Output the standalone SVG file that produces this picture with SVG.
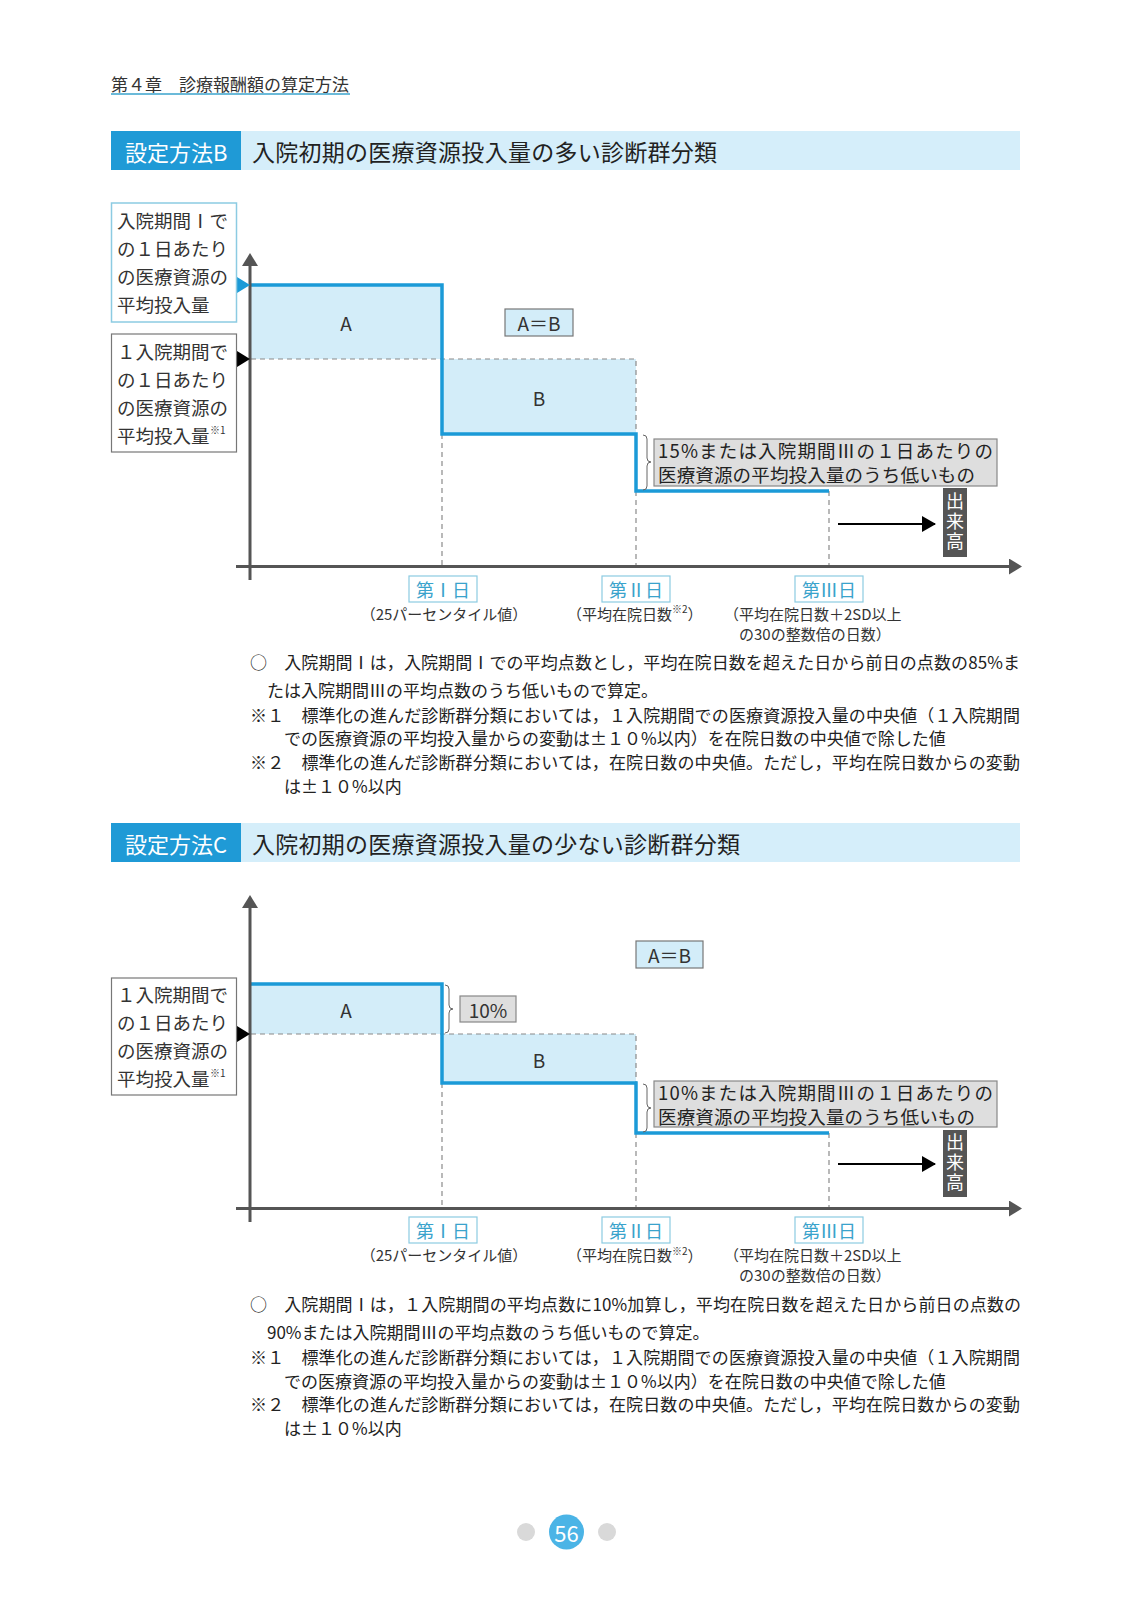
<svg xmlns="http://www.w3.org/2000/svg" width="1133" height="1600" viewBox="0 0 1133 1600">
<style>
text{font-family:"Noto Sans CJK JP","Noto Sans",sans-serif;dominant-baseline:central;fill:#222}
.hdr{font-size:17px;fill:#333}
.ttlw{font-size:22px;fill:#fff}
.ttl{font-size:23px;fill:#222}
.lbl{font-size:18.5px;fill:#333}
.sup{font-size:10px;fill:#333}
.big{font-size:19px;fill:#333;text-anchor:middle}
.gl{font-size:18.5px;fill:#222}
.day{font-size:18px;fill:#3aa3cc;text-anchor:middle}
.sub{font-size:15px;fill:#333}
.note{font-size:17px;fill:#222}
.vt{font-size:18px;fill:#fff;text-anchor:middle;writing-mode:vertical-rl;letter-spacing:2px}
.axis{stroke:#555;stroke-width:3;fill:none}
.dash{stroke:#8a8a8a;stroke-width:1.2;stroke-dasharray:5,4;fill:none}
.step{stroke:#1b9ad7;stroke-width:3.5;fill:none;stroke-linejoin:miter}
.area{fill:#d3edf9}
.box1{fill:#fff;stroke:#8ccbe2;stroke-width:1.5}
.box2{fill:#fff;stroke:#777;stroke-width:1.2}
.eq{fill:#d3edf9;stroke:#777;stroke-width:1.2}
.gbox{fill:#dedede;stroke:#888;stroke-width:1.2}
.dbox{fill:#fff;stroke:#8ccbe2;stroke-width:1.2}
.brace{stroke:#666;stroke-width:1;fill:none}
.dk{fill:#555}
</style>
<defs>
<marker id="ax" viewBox="0 0 13 16" refX="10" refY="8" markerWidth="13" markerHeight="16" orient="auto" markerUnits="userSpaceOnUse"><path d="M0,0 L13,8 L0,16 z" fill="#555"/></marker>
<marker id="blk" viewBox="0 0 14 16" refX="13" refY="8" markerWidth="14" markerHeight="16" orient="auto" markerUnits="userSpaceOnUse"><path d="M0,0 L14,8 L0,16 z" fill="#000"/></marker>
</defs>

<!-- page header -->
<g id="page-header">
<text class="hdr" x="111" y="83">第４章　診療報酬額の算定方法</text>
<line x1="111" y1="94" x2="350" y2="94" stroke="#3aa3cc" stroke-width="1.5"/>
</g>

<!-- ===== Section B ===== -->
<g id="title-B">
<rect x="111" y="131" width="909" height="39" fill="#d5eefa"/>
<rect x="111" y="131" width="130" height="39" fill="#1f9ad6"/>
<text class="ttlw" x="125" y="150.5">設定方法B</text>
<text class="ttl" x="252" y="150.5" textLength="465">入院初期の医療資源投入量の多い診断群分類</text>
</g>

<g id="chartB-areas">
<rect class="area" x="251" y="285" width="191" height="74"/>
<rect class="area" x="442" y="359" width="194" height="75"/>
</g>

<g id="chartB-connectors">
<path class="dash" d="M251,359 H636 V434 M442,434 V566 M636,491 V566 M829,491 V566"/>
<path class="step" d="M251,285 H442 V434 H636 V491 H829"/>
<line class="axis" x1="250" y1="580" x2="250" y2="256" marker-end="url(#ax)"/>
<line class="axis" x1="236" y1="566.5" x2="1019" y2="566.5" marker-end="url(#ax)"/>
<line x1="838" y1="524" x2="935" y2="524" stroke="#000" stroke-width="2" marker-end="url(#blk)"/>
<path fill="#1b9ad7" d="M237,277 L250,285 L237,293 z"/>
<path fill="#000" d="M237,351 L250,359 L237,367 z"/>
<path class="brace" d="M643,435 q4,0 4,4 V458 q0,4 4,4 q-4,0 -4,4 V486 q0,4 -4,4"/>
</g>

<g id="nodeB-ylabel1">
<rect class="box1" x="111.5" y="203" width="125" height="119"/>
<text class="lbl" x="117" y="220">入院期間Ⅰで</text>
<text class="lbl" x="117" y="248">の１日あたり</text>
<text class="lbl" x="117" y="276">の医療資源の</text>
<text class="lbl" x="117" y="304">平均投入量</text>
</g>
<g id="nodeB-ylabel2">
<rect class="box2" x="111.5" y="334" width="125" height="118"/>
<text class="lbl" x="117" y="351">１入院期間で</text>
<text class="lbl" x="117" y="379">の１日あたり</text>
<text class="lbl" x="117" y="407">の医療資源の</text>
<text class="lbl" x="117" y="435">平均投入量</text>
<text class="sup" x="210" y="429">※1</text>
</g>
<g id="nodeB-A"><text class="big" x="346" y="322">A</text></g>
<g id="nodeB-B"><text class="big" x="539" y="397">B</text></g>
<g id="nodeB-eq">
<rect class="eq" x="505" y="309" width="68" height="27"/>
<text class="big" x="539" y="322">A＝B</text>
</g>
<g id="nodeB-gray">
<rect class="gbox" x="654" y="439" width="343" height="47"/>
<text class="gl" x="658" y="450" textLength="335">15%または入院期間Ⅲの１日あたりの</text>
<text class="gl" x="658" y="474" textLength="317">医療資源の平均投入量のうち低いもの</text>
</g>
<g id="nodeB-dekidaka">
<rect class="dk" x="943" y="488" width="24" height="69"/>
<text class="vt" x="955" y="522.5">出来高</text>
</g>
<g id="nodeB-day1">
<rect class="dbox" x="409" y="576" width="68" height="26"/>
<text class="day" x="443" y="589">第Ⅰ日</text>
<text class="sub" x="444" y="613" text-anchor="middle">（25パーセンタイル値）</text>
</g>
<g id="nodeB-day2">
<rect class="dbox" x="602" y="576" width="68" height="26"/>
<text class="day" x="636" y="589">第Ⅱ日</text>
<text class="sub" x="567" y="613">（平均在院日数<tspan class="sup" dy="-5">※2</tspan><tspan dy="5">）</tspan></text>
</g>
<g id="nodeB-day3">
<rect class="dbox" x="795" y="576" width="68" height="26"/>
<text class="day" x="829" y="589">第Ⅲ日</text>
<text class="sub" x="724" y="613">（平均在院日数＋2SD以上</text>
<text class="sub" x="739" y="633">の30の整数倍の日数）</text>
</g>

<g id="notes-B">
<text class="note" x="250" y="661" textLength="770">○　入院期間Ⅰは，入院期間Ⅰでの平均点数とし，平均在院日数を超えた日から前日の点数の85%ま</text>
<text class="note" x="267" y="689">たは入院期間Ⅲの平均点数のうち低いもので算定。</text>
<text class="note" x="250" y="714" textLength="770">※１　標準化の進んだ診断群分類においては，１入院期間での医療資源投入量の中央値（１入院期間</text>
<text class="note" x="284" y="737">での医療資源の平均投入量からの変動は±１０%以内）を在院日数の中央値で除した値</text>
<text class="note" x="250" y="761" textLength="770">※２　標準化の進んだ診断群分類においては，在院日数の中央値。ただし，平均在院日数からの変動</text>
<text class="note" x="284" y="785">は±１０%以内</text>
</g>

<!-- ===== Section C ===== -->
<g id="title-C">
<rect x="111" y="823" width="909" height="39" fill="#d5eefa"/>
<rect x="111" y="823" width="130" height="39" fill="#1f9ad6"/>
<text class="ttlw" x="125" y="842.5">設定方法C</text>
<text class="ttl" x="252" y="842.5" textLength="488">入院初期の医療資源投入量の少ない診断群分類</text>
</g>

<g id="chartC-areas">
<rect class="area" x="251" y="984" width="191" height="50"/>
<rect class="area" x="442" y="1034" width="194" height="49"/>
</g>

<g id="chartC-connectors">
<path class="dash" d="M251,1034 H636 V1083 M442,1083 V1208 M636,1133 V1208 M829,1133 V1208"/>
<path class="step" d="M251,984 H442 V1083 H636 V1133 H829"/>
<line class="axis" x1="250" y1="1222" x2="250" y2="898" marker-end="url(#ax)"/>
<line class="axis" x1="236" y1="1208.5" x2="1019" y2="1208.5" marker-end="url(#ax)"/>
<line x1="838" y1="1164" x2="935" y2="1164" stroke="#000" stroke-width="2" marker-end="url(#blk)"/>
<path fill="#000" d="M237,1026 L250,1034 L237,1042 z"/>
<path class="brace" d="M445,985 q4,0 4,4 V1005 q0,4 4,4 q-4,0 -4,4 V1029 q0,4 -4,4"/>
<path class="brace" d="M643,1084 q4,0 4,4 V1104 q0,4 4,4 q-4,0 -4,4 V1128 q0,4 -4,4"/>
</g>

<g id="nodeC-ylabel">
<rect class="box2" x="111.5" y="978" width="125" height="117"/>
<text class="lbl" x="117" y="994">１入院期間で</text>
<text class="lbl" x="117" y="1022">の１日あたり</text>
<text class="lbl" x="117" y="1050">の医療資源の</text>
<text class="lbl" x="117" y="1078">平均投入量</text>
<text class="sup" x="210" y="1072">※1</text>
</g>
<g id="nodeC-A"><text class="big" x="346" y="1009">A</text></g>
<g id="nodeC-B"><text class="big" x="539" y="1059">B</text></g>
<g id="nodeC-10">
<rect class="gbox" x="460" y="996" width="56" height="26"/>
<text class="big" x="488" y="1009">10%</text>
</g>
<g id="nodeC-eq">
<rect class="eq" x="636" y="941" width="67" height="27"/>
<text class="big" x="669.5" y="954.5">A＝B</text>
</g>
<g id="nodeC-gray">
<rect class="gbox" x="654" y="1081" width="343" height="46"/>
<text class="gl" x="658" y="1091.5" textLength="335">10%または入院期間Ⅲの１日あたりの</text>
<text class="gl" x="658" y="1115.5" textLength="317">医療資源の平均投入量のうち低いもの</text>
</g>
<g id="nodeC-dekidaka">
<rect class="dk" x="943" y="1130" width="24" height="67"/>
<text class="vt" x="955" y="1163.5">出来高</text>
</g>
<g id="nodeC-day1">
<rect class="dbox" x="409" y="1217" width="68" height="26"/>
<text class="day" x="443" y="1230">第Ⅰ日</text>
<text class="sub" x="444" y="1254.5" text-anchor="middle">（25パーセンタイル値）</text>
</g>
<g id="nodeC-day2">
<rect class="dbox" x="602" y="1217" width="68" height="26"/>
<text class="day" x="636" y="1230">第Ⅱ日</text>
<text class="sub" x="567" y="1254.5">（平均在院日数<tspan class="sup" dy="-5">※2</tspan><tspan dy="5">）</tspan></text>
</g>
<g id="nodeC-day3">
<rect class="dbox" x="795" y="1217" width="68" height="26"/>
<text class="day" x="829" y="1230">第Ⅲ日</text>
<text class="sub" x="724" y="1254.5">（平均在院日数＋2SD以上</text>
<text class="sub" x="739" y="1274.5">の30の整数倍の日数）</text>
</g>

<g id="notes-C">
<text class="note" x="250" y="1303" textLength="771">○　入院期間Ⅰは，１入院期間の平均点数に10%加算し，平均在院日数を超えた日から前日の点数の</text>
<text class="note" x="267" y="1331">90%または入院期間Ⅲの平均点数のうち低いもので算定。</text>
<text class="note" x="250" y="1356" textLength="770">※１　標準化の進んだ診断群分類においては，１入院期間での医療資源投入量の中央値（１入院期間</text>
<text class="note" x="284" y="1380">での医療資源の平均投入量からの変動は±１０%以内）を在院日数の中央値で除した値</text>
<text class="note" x="250" y="1403" textLength="770">※２　標準化の進んだ診断群分類においては，在院日数の中央値。ただし，平均在院日数からの変動</text>
<text class="note" x="284" y="1427">は±１０%以内</text>
</g>

<g id="page-number">
<circle cx="526" cy="1532" r="9" fill="#d9d9d9"/>
<circle cx="607" cy="1532" r="9" fill="#d9d9d9"/>
<circle cx="566.5" cy="1532" r="17.5" fill="#4bb4e6"/>
<text x="566.5" y="1532" font-size="22" text-anchor="middle" style="fill:#fff">56</text>
</g>
</svg>
